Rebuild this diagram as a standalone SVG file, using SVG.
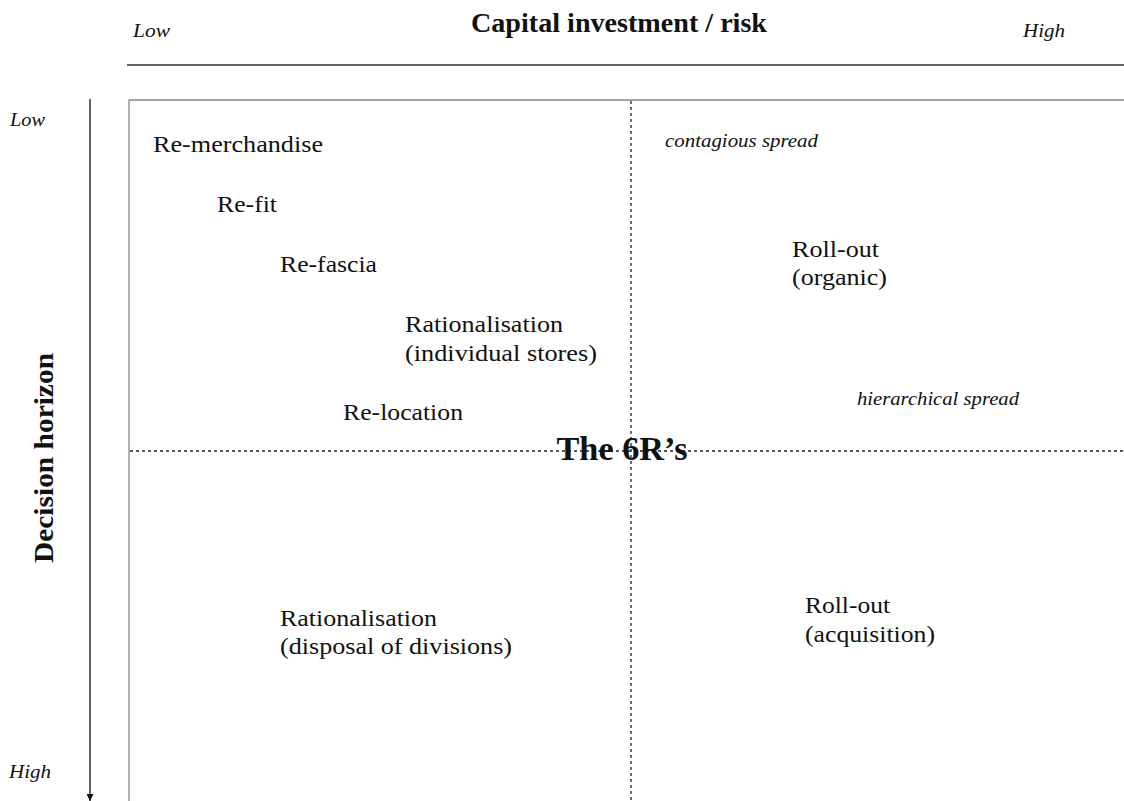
<svg xmlns="http://www.w3.org/2000/svg" width="1124" height="801" viewBox="0 0 1124 801">
  <style>
    text { font-family: "Liberation Serif", "Times New Roman", serif; fill: #111; }
    .lbl { font-size: 24px; }
    .it { font-style: italic; font-size: 19px; }
    .bold { font-weight: bold; font-size: 28px; }
    .title { font-weight: bold; font-size: 34px; }
    .dash { stroke: #222; stroke-width: 1.3; stroke-dasharray: 3 3; fill: none; }
  </style>
  <defs>
    <marker id="arrow" viewBox="0 0 10 10" refX="10" refY="5" markerWidth="7" markerHeight="7" orient="auto" markerUnits="userSpaceOnUse">
      <path d="M0,0 L10,5 L0,10 z" fill="#111"/>
    </marker>
  </defs>

  <rect width="1124" height="801" fill="#fff"/>

  <!-- axes and their labels -->
  <g id="axes">
    <line x1="127" y1="65" x2="1124" y2="65" stroke="#333" stroke-width="1.3"/>
    <line x1="90" y1="99" x2="90" y2="801" stroke="#111" stroke-width="1.3" marker-end="url(#arrow)"/>
    <text class="it" x="133" y="37" textLength="37" lengthAdjust="spacingAndGlyphs">Low</text>
    <text class="bold" x="619" y="32" text-anchor="middle" textLength="296" lengthAdjust="spacingAndGlyphs">Capital investment / risk</text>
    <text class="it" x="1023" y="37" textLength="42" lengthAdjust="spacingAndGlyphs">High</text>
    <text class="it" x="10" y="126" textLength="35" lengthAdjust="spacingAndGlyphs">Low</text>
    <text class="it" x="9" y="778" textLength="42" lengthAdjust="spacingAndGlyphs">High</text>
    <text class="bold" transform="translate(53,458) rotate(-90)" text-anchor="middle" textLength="210" lengthAdjust="spacingAndGlyphs">Decision horizon</text>
  </g>

  <!-- matrix frame -->
  <g id="frame">
    <path d="M1124,100 H129 V801" fill="none" stroke="#888" stroke-width="1.3"/>
  </g>

  <!-- quadrant dividers -->
  <g id="connectors">
    <line class="dash" x1="631" y1="101" x2="631" y2="801"/>
    <line class="dash" x1="130" y1="451" x2="1124" y2="451"/>
  </g>

  <g id="node-remerchandise"><text class="lbl" x="153" y="152" textLength="170" lengthAdjust="spacingAndGlyphs">Re-merchandise</text></g>
  <g id="node-refit"><text class="lbl" x="217" y="212" textLength="60" lengthAdjust="spacingAndGlyphs">Re-fit</text></g>
  <g id="node-refascia"><text class="lbl" x="280" y="272" textLength="97" lengthAdjust="spacingAndGlyphs">Re-fascia</text></g>
  <g id="node-rationalisation-stores">
    <text class="lbl" x="405" y="332" textLength="158" lengthAdjust="spacingAndGlyphs">Rationalisation</text>
    <text class="lbl" x="405" y="361" textLength="192" lengthAdjust="spacingAndGlyphs">(individual stores)</text>
  </g>
  <g id="node-relocation"><text class="lbl" x="343" y="420" textLength="120" lengthAdjust="spacingAndGlyphs">Re-location</text></g>
  <g id="node-title"><text class="title" x="622" y="460" text-anchor="middle" textLength="131" lengthAdjust="spacingAndGlyphs">The 6R’s</text></g>
  <g id="node-contagious"><text class="it" x="665" y="147" textLength="153" lengthAdjust="spacingAndGlyphs">contagious spread</text></g>
  <g id="node-rollout-organic">
    <text class="lbl" x="792" y="257" textLength="87" lengthAdjust="spacingAndGlyphs">Roll-out</text>
    <text class="lbl" x="792" y="285" textLength="95" lengthAdjust="spacingAndGlyphs">(organic)</text>
  </g>
  <g id="node-hierarchical"><text class="it" x="857" y="405" textLength="162" lengthAdjust="spacingAndGlyphs">hierarchical spread</text></g>
  <g id="node-rationalisation-divisions">
    <text class="lbl" x="280" y="626" textLength="157" lengthAdjust="spacingAndGlyphs">Rationalisation</text>
    <text class="lbl" x="280" y="654" textLength="232" lengthAdjust="spacingAndGlyphs">(disposal of divisions)</text>
  </g>
  <g id="node-rollout-acquisition">
    <text class="lbl" x="805" y="613" textLength="85" lengthAdjust="spacingAndGlyphs">Roll-out</text>
    <text class="lbl" x="805" y="642" textLength="130" lengthAdjust="spacingAndGlyphs">(acquisition)</text>
  </g>
</svg>
